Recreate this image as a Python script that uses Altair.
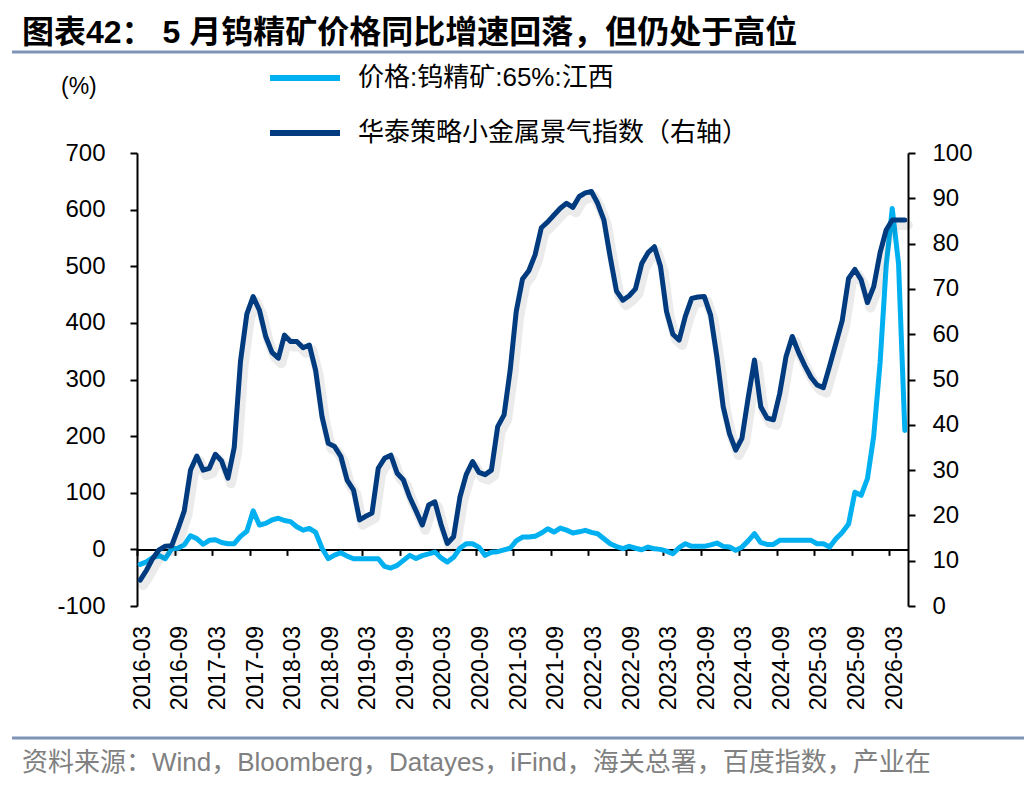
import altair as alt
import pandas as pd

# ---------------- data (monthly, 2016-03 .. 2026-05) ----------------
start_month = "2016-03-01"

price_yoy = [  # 价格:钨精矿:65%:江西, 同比 %
    -26.5, -22, -14.5, -11, -16.5, 1, 2, 8, 24, 19,
    9, 16, 17, 12, 10, 10, 23, 32, 68, 43,
    46, 52, 55, 51, 49, 40, 34, 37, 30, 2,
    -16.5, -10, -6, -12, -16.5, -16.5, -16.5, -16.5, -16.5, -30,
    -33, -28.3, -19.4, -10.6, -16, -11, -8, -4.7, -15, -22.4,
    -14, 2, 10, 10, 4, -10.6, -5, -4, -1, 2,
    15, 21.8, 21.8, 23, 28.8, 36.5, 30.6, 37.7, 34, 29,
    31, 33.6, 30, 27.7, 18.8, 10, 5, 1.2, 5.3, 2,
    -0.6, 4.1, 1, 0, -3, -7.7, 3, 10, 5.3, 5.3,
    5.3, 8, 11.2, 5.3, 4.1, -1.8, 4, 15, 27.7, 12,
    8.8, 8.8, 15.9, 15.9, 15.9, 15.9, 15.9, 15.9, 10, 10,
    4.1, 18.8, 30, 45, 101, 95.4, 125, 200, 330, 500,
    602, 505, 210,
]

index_vals = [  # 华泰策略小金属景气指数 (右轴)
    5.7, 7.9, 10.5, 12.4, 13.2, 13.3, 17, 21, 30, 33.1,
    30, 30.4, 33.5, 32, 28.2, 35, 54, 64.5, 68.3, 65.3,
    59.5, 56, 54.7, 59.8, 58.4, 58.4, 57, 57.6, 52, 41.8,
    35.9, 35.2, 33.0, 27.8, 25.6, 19.0, 19.8, 20.5, 30.4, 32.6,
    33.3, 29.3, 27.8, 24, 21, 17.9, 22.3, 23.0, 18, 13.8,
    15.3, 24, 29, 31.9, 29.5, 29.0, 30.0, 39.6, 42.2, 52,
    65, 72.2, 74, 77.5, 83.5, 84.8, 86.3, 87.8, 88.9, 88.0,
    90.4, 91.2, 91.5, 88.9, 85.2, 77, 69.5, 67.5, 68.5, 70,
    75.6, 78, 79.3, 75, 65, 60, 58.7, 64, 67.9, 68.2,
    68.3, 64.2, 55, 44, 38, 34.4, 37, 46, 54.3, 44,
    41.5, 41.1, 46.9, 55, 59.5, 56, 53, 50.5, 48.8, 48.2,
    53, 58, 63, 72.3, 74.3, 72, 67, 70.5, 78, 83,
    85.2, 85.2, 85.2,
]

x_tick_labels = [
    "2016-03", "2016-09", "2017-03", "2017-09", "2018-03", "2018-09",
    "2019-03", "2019-09", "2020-03", "2020-09", "2021-03", "2021-09",
    "2022-03", "2022-09", "2023-03", "2023-09", "2024-03", "2024-09",
    "2025-03", "2025-09", "2026-03",
]
left_ticks = [-100, 0, 100, 200, 300, 400, 500, 600, 700]
right_ticks = [0, 10, 20, 30, 40, 50, 60, 70, 80, 90, 100]

series_names = ["价格:钨精矿:65%:江西", "华泰策略小金属景气指数（右轴）"]
title_text = "图表42： 5 月钨精矿价格同比增速回落，但仍处于高位"
unit_text = "(%)"
source_text = "资料来源：Wind，Bloomberg，Datayes，iFind，海关总署，百度指数，产业在"

LIGHT = "#00B0F0"
DARK = "#003B7F"
RULE = "#7E95B8"
LATIN = "Liberation Sans"
CJK = "Liberation Sans, Noto Sans CJK SC"

W, H = 771, 453
ZERO_OFFSET = -H * 100 / 800  # x axis drawn at y = 0

dates = pd.date_range(start_month, periods=len(price_yoy), freq="MS").strftime("%Y/%m/%d")
df = pd.DataFrame({"date": dates, "price": price_yoy, "index": index_vals})


def dt(s):
    return alt.DateTime(year=int(s[:4]), month=int(s[5:7]), date=1)


x_enc = alt.X(
    "yearmonth(date):T",
    bandPosition=0.5,
    scale=alt.Scale(domain=[dt("2016-03"), dt("2026-06")]),
    axis=alt.Axis(
        title="",
        values=[dt(s) for s in x_tick_labels],
        format="%Y-%m",
        labelAngle=270,
        labelPadding=70,
        labelOffset=5,
        labelFlush=False,
        labelOverlap=False,
        labelFont=LATIN,
        labelFontSize=23,
        labelColor="black",
        offset=ZERO_OFFSET,
        domainColor="black",
        domainWidth=2,
        tickColor="black",
        tickWidth=2,
        tickSize=6,
        grid=False,
    ),
)

base = alt.Chart(df)

light = base.mark_line(color=LIGHT, strokeWidth=5, strokeJoin="round", strokeCap="round").encode(
    x=x_enc,
    y=alt.Y(
        "price:Q",
        scale=alt.Scale(domain=[-100, 700], nice=False, zero=False),
        axis=alt.Axis(
            title="",
            values=left_ticks,
            labelExpr="'' + datum.value",
            labelFont=LATIN,
            labelFontSize=24,
            labelColor="black",
            labelPadding=25,
            domainColor="black",
            domainWidth=2,
            tickColor="black",
            tickWidth=2,
            tickSize=7,
            grid=False,
        ),
    ),
)

right_y = alt.Y(
    "index:Q",
    scale=alt.Scale(domain=[0, 100], nice=False, zero=False),
    axis=alt.Axis(
        orient="right",
        title="",
        values=right_ticks,
        labelFont=LATIN,
        labelFontSize=24,
        labelColor="black",
        labelPadding=17,
        domainColor="black",
        domainWidth=2,
        tickColor="black",
        tickWidth=2,
        tickSize=7,
        grid=False,
    ),
)

shadow = base.mark_line(
    color="#000000", opacity=0.08, strokeWidth=10, strokeJoin="round", strokeCap="round",
    xOffset=3, yOffset=5,
).encode(x=x_enc, y=right_y)

dark = base.mark_line(color=DARK, strokeWidth=5, strokeJoin="round", strokeCap="round").encode(
    x=x_enc, y=right_y
)

dark_group = alt.layer(shadow, dark)

lines = alt.layer(light, dark_group).resolve_scale(y="independent")

one = pd.DataFrame({"k": [0]})


def text_layer(txt, x, y, size, color="black", weight="normal", font=CJK, align="left", baseline="middle"):
    return alt.Chart(pd.DataFrame({"t": [txt]})).mark_text(
        align=align, baseline=baseline, fontSize=size, font=font, fontWeight=weight, color=color
    ).encode(text="t:N", x=alt.value(x), y=alt.value(y))


def hline(x1, x2, y, color, width):
    return alt.Chart(one).mark_rule(color=color, strokeWidth=width).encode(
        x=alt.value(x1), x2=alt.value(x2), y=alt.value(y)
    )


title = text_layer(title_text, -115, -120, 32, weight="bold")
title_rule = hline(-125, 887, -101, RULE, 3)
unit = text_layer(unit_text, -76, -66, 23, font=LATIN)
leg1_line = hline(133, 203, -75, LIGHT, 6)
leg2_line = hline(133, 203, -20, DARK, 6)
leg1_txt = text_layer(series_names[0], 221, -75, 26)
leg2_txt = text_layer(series_names[1], 221, -20, 26)
foot_rule = hline(-125, 887, 585, RULE, 3)
foot_txt = text_layer(source_text, -115, 610, 26, color="#808080")

chart = alt.layer(
    lines,
    title, title_rule, unit,
    leg1_line, leg2_line, leg1_txt, leg2_txt,
    foot_rule, foot_txt,
).properties(
    width=W,
    height=H,
    autosize=alt.AutoSizeParams(type="none"),
    padding={"left": 137, "top": 153, "right": 128, "bottom": 186},
    background="white",
).configure_view(stroke=None)

chart.save("out.html", embed_options={"renderer": "svg", "actions": False})
